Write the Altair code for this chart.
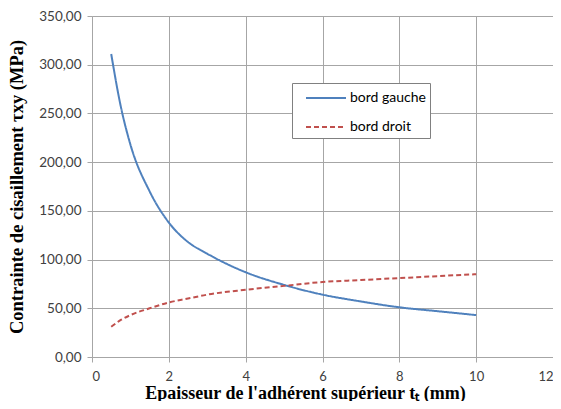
import altair as alt
import pandas as pd

x_vals = [0.5, 0.75, 1.0, 1.5, 2.0, 2.5, 3.0, 4.0, 5.0, 6.0, 7.0, 8.0, 9.0, 10.0]
gauche = [311, 257, 218, 170, 138, 118, 106, 87, 74, 64, 57, 51, 47, 43]
droit = [31, 38, 43, 50, 56, 60, 64, 69, 73, 77, 79, 81, 83, 85]
series = ["bord gauche", "bord droit"]
colors = ["#4F81BD", "#C0504D"]

rows = []
for x, g, d in zip(x_vals, gauche, droit):
    rows.append({"x": x, "y": g, "s": series[0]})
    rows.append({"x": x, "y": d, "s": series[1]})
df = pd.DataFrame(rows)

chart = alt.Chart(df).mark_line(strokeWidth=2, interpolate="monotone").encode(
    x=alt.X("x:Q", scale=alt.Scale(domain=[0, 12], nice=False),
            axis=alt.Axis(values=list(range(0, 13, 2)), title="Epaisseur de l'adhérent supérieur tₜ (mm)",
                          labelFont="Lato", labelFontSize=13, labelColor="#404040",
                          titleFont="Liberation Serif", titleFontSize=18, titleFontWeight="bold",
                          titleColor="#000000", titlePadding=1, labelPadding=8,
                          titleX=213, titleAlign="center",
                          gridColor="#a6a6a6", domainColor="#a6a6a6", tickColor="#a6a6a6", tickSize=5)),
    y=alt.Y("y:Q", scale=alt.Scale(domain=[0, 350], nice=False),
            axis=alt.Axis(values=list(range(0, 351, 50)),
                          labelExpr="replace(format(datum.value, '.2f'), '.', ',')",
                          title="Contrainte de cisaillement τxy (MPa)",
                          labelFont="Lato", labelFontSize=13.5, labelColor="#404040",
                          titleFont="Liberation Serif", titleFontSize=18.5, titleFontWeight="bold",
                          titleColor="#000000", titlePadding=12, labelPadding=6,
                          gridColor="#a6a6a6", domainColor="#a6a6a6", tickColor="#a6a6a6", tickSize=5)),
    color=alt.Color("s:N", scale=alt.Scale(domain=series, range=colors),
                    legend=alt.Legend(title=None, orient="none", legendX=200, legendY=67,
                                      symbolType="M-2,0H2", symbolSize=400, symbolStrokeWidth=2,
                                      symbolOffset=19, labelOffset=13,
                                      labelFont="Lato", labelFontSize=14, labelColor="#000000",
                                      fillColor="white", strokeColor="#808080", padding=4,
                                      rowPadding=11)),
    strokeDash=alt.StrokeDash("s:N", scale=alt.Scale(domain=series, range=[[1, 0], [5, 3]]),
                              legend=None),
).properties(
    width=461, height=341,
    autosize=alt.AutoSizeParams(type="none"),
    padding={"left": 84, "top": 8, "right": 0, "bottom": 44},
).configure_view(stroke=None)

chart.save("out.html", embed_options={"renderer": "svg", "actions": False})
